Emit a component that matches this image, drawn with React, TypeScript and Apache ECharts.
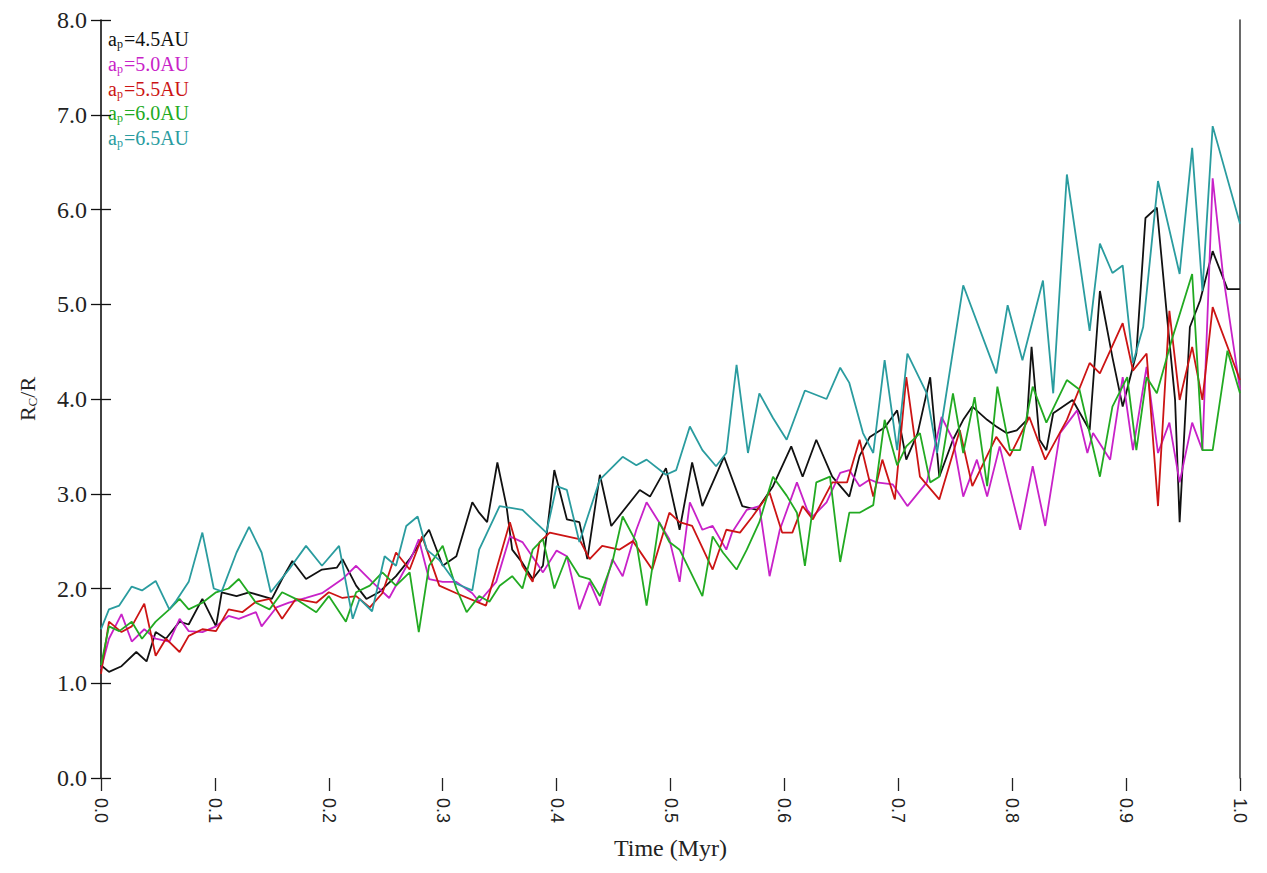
import React, { useEffect, useRef } from "react";
import * as echarts from "echarts";

const SERIF = '"Liberation Serif", "Times New Roman", serif';
const SANS = '"Liberation Sans", Arial, sans-serif';

const X_TICK_LABELS = ["0.0", "0.1", "0.2", "0.3", "0.4", "0.5", "0.6", "0.7", "0.8", "0.9", "1.0"];
const Y_TICK_LABELS = ["0.0", "1.0", "2.0", "3.0", "4.0", "5.0", "6.0", "7.0", "8.0"];

const SERIES_NAMES = ["4.5AU", "5.0AU", "5.5AU", "6.0AU", "6.5AU"];
const SERIES_COLORS = ["#111111", "#c822c8", "#cc1414", "#22aa22", "#2a9c9f"];

const AP45: [number, number][] = [
  [0, 1.19], [0.007, 1.12], [0.018, 1.18], [0.031, 1.33], [0.04, 1.23], [0.048, 1.54], [0.057, 1.47], [0.069, 1.65],
  [0.077, 1.62], [0.089, 1.89], [0.101, 1.6], [0.106, 1.96], [0.119, 1.92], [0.13, 1.96], [0.15, 1.89], [0.159, 2.1],
  [0.168, 2.29], [0.18, 2.1], [0.194, 2.2], [0.207, 2.22], [0.212, 2.31], [0.224, 2.03], [0.233, 1.89], [0.244, 1.96],
  [0.259, 2.13], [0.271, 2.31], [0.282, 2.52], [0.288, 2.62], [0.3, 2.24], [0.312, 2.34], [0.326, 2.91], [0.332, 2.8],
  [0.339, 2.7], [0.348, 3.33], [0.356, 2.87], [0.361, 2.41], [0.37, 2.27], [0.379, 2.1], [0.388, 2.24], [0.398, 3.25],
  [0.409, 2.73], [0.42, 2.7], [0.427, 2.31], [0.438, 3.2], [0.448, 2.66], [0.473, 3.04], [0.482, 2.97], [0.496, 3.27],
  [0.508, 2.62], [0.519, 3.33], [0.528, 2.87], [0.547, 3.39], [0.563, 2.87], [0.576, 2.83], [0.59, 3.08], [0.606, 3.5],
  [0.616, 3.18], [0.628, 3.57], [0.642, 3.18], [0.657, 2.97], [0.666, 3.4], [0.675, 3.6], [0.688, 3.7], [0.699, 3.88],
  [0.707, 3.36], [0.717, 3.64], [0.728, 4.23], [0.736, 3.18], [0.748, 3.57], [0.757, 3.78], [0.765, 3.92], [0.778, 3.78],
  [0.786, 3.71], [0.795, 3.64], [0.804, 3.67], [0.813, 3.78], [0.817, 4.55], [0.824, 3.57], [0.83, 3.46], [0.836, 3.85],
  [0.853, 3.99], [0.868, 3.67], [0.877, 5.14], [0.888, 4.44], [0.897, 3.92], [0.909, 4.48], [0.917, 5.91], [0.927, 6.02],
  [0.936, 4.86], [0.943, 3.99], [0.947, 2.7], [0.956, 4.76], [0.965, 5.04], [0.976, 5.56], [0.989, 5.16], [1.0, 5.16],
];

const AP50: [number, number][] = [
  [0, 1.15], [0.007, 1.47], [0.018, 1.73], [0.027, 1.44], [0.038, 1.57], [0.048, 1.47], [0.06, 1.44], [0.069, 1.68],
  [0.077, 1.55], [0.089, 1.54], [0.101, 1.6], [0.112, 1.71], [0.121, 1.68], [0.136, 1.75], [0.141, 1.6], [0.154, 1.8],
  [0.165, 1.85], [0.18, 1.9], [0.194, 1.95], [0.212, 2.1], [0.224, 2.24], [0.238, 2.07], [0.253, 1.9], [0.273, 2.34],
  [0.279, 2.52], [0.288, 2.1], [0.3, 2.07], [0.312, 2.07], [0.326, 1.95], [0.332, 1.86], [0.347, 2.07], [0.359, 2.55],
  [0.37, 2.49], [0.382, 2.28], [0.388, 2.17], [0.4, 2.4], [0.409, 2.34], [0.42, 1.78], [0.429, 2.07], [0.438, 1.82],
  [0.449, 2.31], [0.458, 2.13], [0.47, 2.62], [0.479, 2.91], [0.49, 2.7], [0.499, 2.52], [0.508, 2.07], [0.517, 2.91],
  [0.528, 2.62], [0.537, 2.66], [0.549, 2.41], [0.554, 2.59], [0.567, 2.83], [0.578, 2.87], [0.587, 2.13], [0.596, 2.62],
  [0.611, 3.12], [0.62, 2.83], [0.625, 2.76], [0.637, 2.91], [0.649, 3.22], [0.657, 3.25], [0.666, 3.08], [0.675, 3.15],
  [0.681, 3.12], [0.695, 3.1], [0.708, 2.87], [0.725, 3.12], [0.738, 3.81], [0.748, 3.57], [0.757, 2.97], [0.769, 3.36],
  [0.778, 2.97], [0.789, 3.5], [0.807, 2.62], [0.818, 3.29], [0.829, 2.66], [0.842, 3.64], [0.857, 3.88], [0.866, 3.43],
  [0.871, 3.64], [0.886, 3.36], [0.897, 4.23], [0.906, 3.46], [0.918, 4.34], [0.928, 3.43], [0.938, 3.75], [0.947, 3.12],
  [0.958, 3.75], [0.967, 3.46], [0.976, 6.33], [0.985, 5.32], [1.0, 4.1],
];

const AP55: [number, number][] = [
  [0, 1.1], [0.007, 1.65], [0.018, 1.54], [0.027, 1.6], [0.038, 1.84], [0.048, 1.29], [0.057, 1.47], [0.069, 1.33],
  [0.077, 1.5], [0.089, 1.57], [0.101, 1.55], [0.112, 1.78], [0.124, 1.75], [0.136, 1.86], [0.148, 1.89], [0.159, 1.68],
  [0.171, 1.89], [0.189, 1.85], [0.2, 1.96], [0.212, 1.9], [0.224, 1.92], [0.236, 1.8], [0.247, 1.95], [0.259, 2.38],
  [0.271, 2.2], [0.282, 2.55], [0.297, 2.03], [0.312, 1.95], [0.338, 1.82], [0.344, 2.07], [0.359, 2.7], [0.37, 2.24],
  [0.379, 2.07], [0.385, 2.49], [0.394, 2.59], [0.409, 2.55], [0.42, 2.52], [0.429, 2.31], [0.44, 2.45], [0.455, 2.41],
  [0.467, 2.5], [0.484, 2.2], [0.499, 2.8], [0.508, 2.7], [0.519, 2.66], [0.537, 2.2], [0.549, 2.62], [0.561, 2.59],
  [0.572, 2.76], [0.587, 3.01], [0.598, 2.59], [0.607, 2.59], [0.616, 2.87], [0.625, 2.73], [0.642, 3.12], [0.655, 3.12],
  [0.666, 3.57], [0.678, 2.97], [0.686, 3.36], [0.697, 2.94], [0.707, 4.23], [0.719, 3.18], [0.736, 2.94], [0.754, 3.67],
  [0.765, 3.08], [0.786, 3.6], [0.798, 3.4], [0.815, 3.81], [0.829, 3.36], [0.848, 3.78], [0.868, 4.38], [0.877, 4.27],
  [0.897, 4.8], [0.906, 4.3], [0.918, 4.48], [0.928, 2.87], [0.938, 4.93], [0.947, 3.99], [0.958, 4.55], [0.967, 3.99],
  [0.976, 4.97], [1.0, 4.2],
];

const AP60: [number, number][] = [
  [0, 1.19], [0.007, 1.6], [0.016, 1.55], [0.027, 1.65], [0.036, 1.47], [0.048, 1.65], [0.06, 1.78], [0.069, 1.89],
  [0.077, 1.78], [0.089, 1.85], [0.101, 1.96], [0.112, 2.0], [0.121, 2.1], [0.136, 1.85], [0.148, 1.78], [0.159, 1.96],
  [0.171, 1.89], [0.189, 1.75], [0.2, 1.92], [0.215, 1.65], [0.224, 1.96], [0.236, 2.03], [0.247, 2.17], [0.259, 2.03],
  [0.271, 2.17], [0.279, 1.54], [0.288, 2.24], [0.3, 2.45], [0.312, 2.0], [0.321, 1.75], [0.332, 1.92], [0.341, 1.86],
  [0.35, 2.03], [0.361, 2.13], [0.37, 2.0], [0.379, 2.41], [0.388, 2.52], [0.398, 2.0], [0.409, 2.34], [0.42, 2.13],
  [0.429, 2.1], [0.438, 1.92], [0.449, 2.28], [0.458, 2.76], [0.47, 2.49], [0.479, 1.82], [0.49, 2.7], [0.499, 2.49],
  [0.508, 2.41], [0.528, 1.92], [0.537, 2.55], [0.546, 2.38], [0.558, 2.2], [0.567, 2.41], [0.578, 2.7], [0.59, 3.18],
  [0.602, 2.98], [0.611, 2.8], [0.618, 2.24], [0.628, 3.12], [0.64, 3.18], [0.649, 2.28], [0.657, 2.8], [0.666, 2.8],
  [0.678, 2.88], [0.688, 3.78], [0.699, 3.3], [0.707, 3.5], [0.719, 3.64], [0.728, 3.12], [0.736, 3.18], [0.748, 4.06],
  [0.757, 3.43], [0.767, 4.02], [0.778, 3.08], [0.787, 4.13], [0.798, 3.46], [0.807, 3.46], [0.818, 4.13], [0.83, 3.75],
  [0.848, 4.2], [0.859, 4.1], [0.877, 3.18], [0.888, 3.92], [0.901, 4.23], [0.909, 3.46], [0.918, 4.23], [0.927, 4.06],
  [0.94, 4.62], [0.958, 5.32], [0.967, 3.46], [0.976, 3.46], [0.989, 4.51], [1.0, 4.06],
];

const AP65: [number, number][] = [
  [0, 1.57], [0.007, 1.78], [0.016, 1.82], [0.027, 2.02], [0.036, 1.98], [0.048, 2.08], [0.06, 1.78], [0.066, 1.87],
  [0.077, 2.07], [0.089, 2.59], [0.099, 2.0], [0.106, 1.97], [0.119, 2.38], [0.13, 2.65], [0.141, 2.38], [0.149, 1.96],
  [0.165, 2.2], [0.18, 2.45], [0.194, 2.24], [0.209, 2.45], [0.221, 1.68], [0.227, 1.89], [0.238, 1.76], [0.249, 2.34],
  [0.259, 2.24], [0.268, 2.66], [0.278, 2.76], [0.286, 2.41], [0.297, 2.3], [0.312, 2.05], [0.326, 1.98], [0.332, 2.41],
  [0.35, 2.87], [0.37, 2.83], [0.391, 2.59], [0.4, 3.08], [0.409, 3.04], [0.42, 2.49], [0.438, 3.15], [0.458, 3.39],
  [0.47, 3.3], [0.479, 3.36], [0.496, 3.2], [0.505, 3.25], [0.517, 3.71], [0.528, 3.46], [0.54, 3.29], [0.549, 3.43],
  [0.558, 4.36], [0.568, 3.43], [0.578, 4.06], [0.59, 3.8], [0.602, 3.57], [0.618, 4.09], [0.637, 4.0], [0.649, 4.33],
  [0.657, 4.17], [0.669, 3.64], [0.678, 3.43], [0.688, 4.41], [0.699, 3.46], [0.708, 4.48], [0.725, 4.06], [0.734, 3.43],
  [0.757, 5.2], [0.786, 4.27], [0.796, 4.99], [0.809, 4.41], [0.827, 5.25], [0.836, 4.06], [0.848, 6.37], [0.868, 4.72],
  [0.877, 5.64], [0.888, 5.33], [0.897, 5.41], [0.906, 4.38], [0.915, 4.76], [0.928, 6.3], [0.947, 5.32], [0.958, 6.65],
  [0.967, 5.14], [0.976, 6.88], [1.0, 5.85],
];

const SERIES_DATA = [AP45, AP50, AP55, AP60, AP65];

export default function App() {
  const ref = useRef<HTMLDivElement>(null);

  useEffect(() => {
    if (!ref.current) return;
    const chart = echarts.init(ref.current, undefined, { renderer: "svg" });

    const legendTexts = SERIES_NAMES.map((n, i) => ({
      type: "text",
      left: 100,
      top: 20 + i * 24.8,
      style: {
        text: `{a|a}{s|p}{a|=${n}}`,
        fill: SERIES_COLORS[i],
        fontFamily: SERIF,
        fontSize: 20,
        rich: {
          a: { fontFamily: SERIF, fontSize: 20, lineHeight: 22 },
          s: { fontFamily: SERIF, fontSize: 12, lineHeight: 22, padding: [10, 1, 0, 0] },
        },
      },
    }));

    chart.setOption({
      animation: false,
      backgroundColor: "#ffffff",
      grid: { left: 93, right: 19, top: 10, bottom: 81, containLabel: false },
      xAxis: {
        type: "value",
        min: 0,
        max: 1,
        interval: 0.1,
        name: "Time (Myr)",
        nameLocation: "middle",
        nameGap: 58,
        nameTextStyle: { fontFamily: SERIF, fontSize: 24, color: "#222" },
        axisLine: { show: false },
        axisTick: { show: true, length: 13, lineStyle: { color: "#222", width: 1.3 } },
        axisLabel: {
          rotate: -90,
          margin: 20,
          fontFamily: SANS,
          fontSize: 18,
          color: "#222",
          formatter: (v: number) => X_TICK_LABELS[Math.round(v * 10)] ?? "",
        },
        splitLine: { show: false },
      },
      yAxis: [
        {
          type: "value",
          min: 0,
          max: 8,
          interval: 1,
          position: "left",
          name: "{r|R}{s|C}{r|/R}",
          nameLocation: "middle",
          nameRotate: 90,
          nameGap: 62,
          nameTextStyle: {
            fontFamily: SERIF,
            fontSize: 22,
            color: "#222",
            rich: {
              r: { fontFamily: SERIF, fontSize: 22, color: "#222" },
              s: { fontFamily: SERIF, fontSize: 13, color: "#222", padding: [10, 0, 0, 0] },
            },
          },
          axisLine: { show: true, lineStyle: { color: "#111", width: 1.6 } },
          axisTick: { show: true, inside: false, length: 10, lineStyle: { color: "#111", width: 1.3 } },
          axisLabel: {
            margin: 14,
            fontFamily: SERIF,
            fontSize: 24,
            color: "#222",
            formatter: (v: number) => Y_TICK_LABELS[Math.round(v)] ?? "",
          },
          splitLine: { show: false },
        },
        {
          type: "value",
          min: 0,
          max: 8,
          interval: 1,
          position: "left",
          axisLine: { show: false },
          axisTick: { show: true, inside: true, length: 10, lineStyle: { color: "#111", width: 1.3 } },
          axisLabel: { show: false },
          splitLine: { show: false },
        },
        {
          type: "value",
          min: 0,
          max: 8,
          interval: 1,
          position: "right",
          axisLine: { show: true, lineStyle: { color: "#444", width: 1.6 } },
          axisTick: { show: false },
          axisLabel: { show: false },
          splitLine: { show: false },
        },
      ],
      series: SERIES_DATA.map((d, i) => ({
        name: `a_p=${SERIES_NAMES[i]}`,
        type: "line",
        yAxisIndex: 0,
        data: d,
        showSymbol: false,
        symbol: "none",
        lineStyle: { color: SERIES_COLORS[i], width: 1.8 },
        itemStyle: { color: SERIES_COLORS[i] },
        z: 2 + i,
      })),
      graphic: legendTexts,
    });

    return () => chart.dispose();
  }, []);

  return <div ref={ref} style={{ width: 1251, height: 857 }} />;
}
